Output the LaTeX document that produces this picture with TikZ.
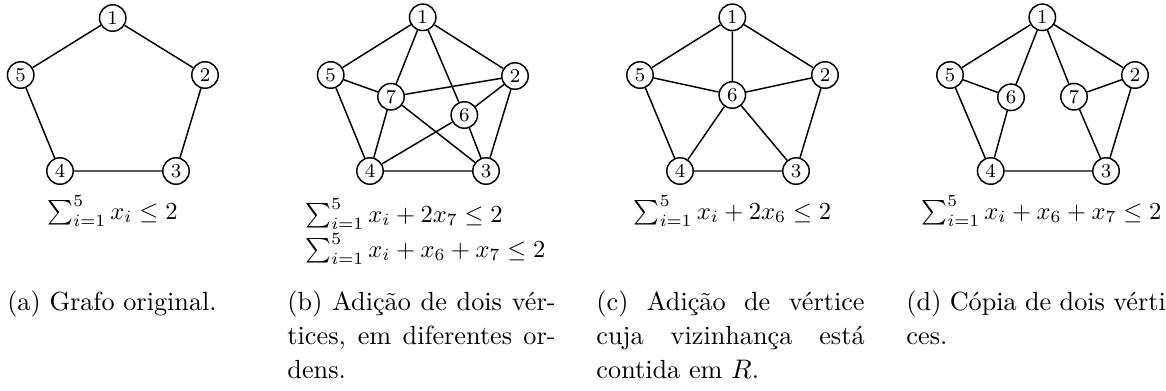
\documentclass[tikz,border=0pt]{standalone}
\begin{document}
\begin{tikzpicture}[x=0.408pt,y=-0.408pt,
  vtx/.style={circle,draw,line width=0.6pt,minimum size=10.8pt,inner sep=0pt,font=\fontsize{8}{9}\selectfont},
  edge/.style={line width=0.6pt},
  capt/.style={anchor=north west,text width=109.4pt,align=justify,inner sep=0pt,font=\fontsize{10.7}{13.9}\selectfont},
  capone/.style={anchor=north,inner sep=0pt,font=\fontsize{10.7}{13.9}\selectfont},
  eq/.style={inner sep=0pt,font=\fontsize{10}{12}\selectfont}]
\useasboundingbox (0,0) rectangle (1166,390);
\clip (0,0) rectangle (1166,390);

% (a)
\node[vtx] (a1) at (112.7,18) {1};
\node[vtx] (a5) at (20.7,75) {5};
\node[vtx] (a2) at (205,75) {2};
\node[vtx] (a4) at (60,171) {4};
\node[vtx] (a3) at (176,171) {3};
\draw[edge] (a1) -- (a2) (a2) -- (a3) (a3) -- (a4) (a4) -- (a5) (a5) -- (a1);
\node[eq] (fa) at (112.5,211) {$\sum_{i=1}^5 x_i \leq 2$};
\node[capone] (ca) at (112,290) {(a) Grafo original.};

% (b)
\node[vtx] (b1) at (422.7,17.3) {1};
\node[vtx] (b5) at (330.7,75) {5};
\node[vtx] (b2) at (515,76) {2};
\node[vtx] (b4) at (370,171) {4};
\node[vtx] (b3) at (486,171) {3};
\node[vtx] (b7) at (391,96.7) {7};
\node[vtx] (b6) at (464.3,115) {6};
\draw[edge] (b1) -- (b2) (b2) -- (b3) (b3) -- (b4) (b4) -- (b5) (b5) -- (b1);
\draw[edge] (b1) -- (b7) (b1) -- (b6) (b5) -- (b7) (b7) -- (b2) (b7) -- (b4) (b7) -- (b3)
  (b6) -- (b2) (b6) -- (b4) (b6) -- (b3);
\node[eq,anchor=west] (fb1) at (305,214) {$\sum_{i=1}^5 x_i + 2x_7 \leq 2$};
\node[eq,anchor=west] (fb2) at (305,249) {$\sum_{i=1}^5 x_i + x_6 + x_7 \leq 2$};
\node[capt] (cb) at (287,290) {(b) Adição de dois vér-\linebreak tices, em diferentes or-\linebreak dens.};

% (c)
\node[vtx] (c1) at (732.3,17.3) {1};
\node[vtx] (c5) at (640,75) {5};
\node[vtx] (c2) at (825,75) {2};
\node[vtx] (c4) at (680,171) {4};
\node[vtx] (c3) at (796,171) {3};
\node[vtx] (c6) at (732.3,95) {6};
\draw[edge] (c1) -- (c2) (c2) -- (c3) (c3) -- (c4) (c4) -- (c5) (c5) -- (c1);
\draw[edge] (c6) -- (c1) (c6) -- (c2) (c6) -- (c3) (c6) -- (c4) (c6) -- (c5);
\node[eq] (fc) at (732.5,211) {$\sum_{i=1}^5 x_i + 2x_6 \leq 2$};
\node[capt] (cc) at (596,290) {(c) Adição de vértice\linebreak cuja vizinhança está\linebreak contida em $R$.};

% (d)
\node[vtx] (d1) at (1042.3,17.3) {1};
\node[vtx] (d5) at (950,75) {5};
\node[vtx] (d2) at (1135,75) {2};
\node[vtx] (d4) at (990.7,171) {4};
\node[vtx] (d3) at (1106,171) {3};
\node[vtx] (d6) at (1011,97.3) {6};
\node[vtx] (d7) at (1074,96.7) {7};
\draw[edge] (d1) -- (d2) (d2) -- (d3) (d3) -- (d4) (d4) -- (d5) (d5) -- (d1);
\draw[edge] (d1) -- (d6) (d5) -- (d6) (d6) -- (d4) (d1) -- (d7) (d7) -- (d2) (d7) -- (d3);
\node[eq] (fd) at (1041.5,211) {$\sum_{i=1}^5 x_i + x_6 + x_7 \leq 2$};
\node[capt] (cd) at (906,290) {(d) Cópia de dois vérti-\linebreak ces.};
\end{tikzpicture}
\end{document}
